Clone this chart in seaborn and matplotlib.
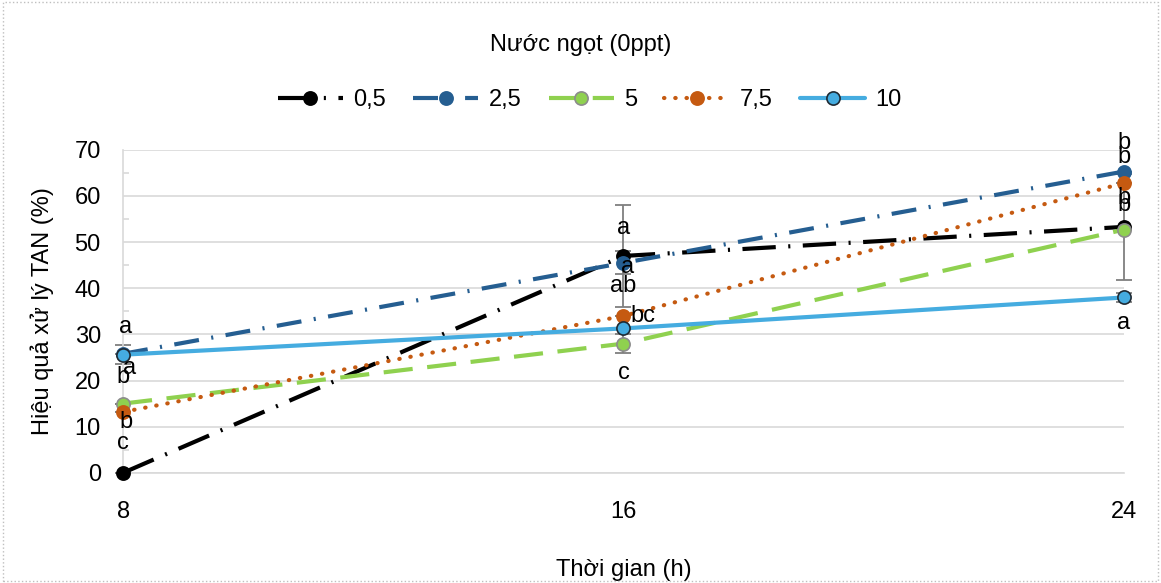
import numpy as np
import pandas as pd
import matplotlib.pyplot as plt
import seaborn as sns

hours = [8, 16, 24]
series_names = ["0,5", "2,5", "5", "7,5", "10"]
v_05 = [0.0, 47.0, 53.3]
v_25 = [25.8, 45.5, 65.3]
v_5 = [15.0, 28.0, 52.7]
v_75 = [13.2, 34.0, 62.8]
v_10 = [25.6, 31.3, 38.0]
err_05 = [0.0, 11.0, 11.5]
err_25 = [0.0, 2.5, 0.0]
err_5 = [0.0, 2.0, 0.0]
err_75 = [0.0, 0.0, 0.0]
err_10 = [2.0, 0.0, 1.0]

# significance letters: (hour, y value, text, x offset in points)
letters = [
    (8, 31.7, "a", 2), (8, 22.8, "a", 5), (8, 20.8, "b", 0), (8, 11.0, "b", 2), (8, 6.5, "c", 0),
    (16, 53.0, "a", 0), (16, 44.7, "a", 3), (16, 40.4, "ab", 0), (16, 34.0, "bc", 14), (16, 21.7, "c", 0),
    (24, 71.5, "b", 0), (24, 68.5, "b", 0), (24, 59.5, "b", 0), (24, 58.0, "b", 0), (24, 32.5, "a", 0),
]

values = [v_05, v_25, v_5, v_75, v_10]
errors = [err_05, err_25, err_5, err_75, err_10]
colors = ["#000000", "#255E91", "#8FD14F", "#C55A11", "#45ACE0"]
dashes = [(0, (8, 3, 0.5, 3)), (0, (6, 3, 0.5, 3)), (0, (7, 3.5)), (0, (0.1, 2.6)), "-"]
edges = ["#000000", "#255E91", "#8C8C8C", "#C55A11", "#1F2A33"]

df = pd.DataFrame({
    "hour": hours * len(series_names),
    "value": sum(values, []),
    "series": sum([[n] * len(hours) for n in series_names], []),
})

sns.set_style("white")
plt.rcParams['font.family'] = ['Liberation Sans', 'DejaVu Sans']
plt.rcParams['text.color'] = 'black'
plt.rcParams['axes.labelcolor'] = 'black'

fig = plt.figure(figsize=(11.61, 5.83), dpi=100)
ax = fig.add_axes([0.106, 0.189, 0.862, 0.554])

for i, name in enumerate(series_names):
    sub = df[df["series"] == name]
    eb = ax.errorbar(sub["hour"], sub["value"], yerr=errors[i], fmt="none",
                     ecolor="#7F7F7F", elinewidth=1.3, capsize=6, capthick=1.3, zorder=2)
    for art in eb.lines[1] + eb.lines[2]:
        art.set_clip_on(False)
    sns.lineplot(data=sub, x="hour", y="value", ax=ax, color=colors[i],
                 linewidth=3.0, marker="o", markersize=9.5, markerfacecolor=colors[i],
                 markeredgecolor=edges[i], markeredgewidth=1.2, label=name, zorder=3)
    ln = ax.lines[-1]
    ln.set_linestyle(dashes[i])
    ln.set_dash_capstyle("round" if i == 3 else "butt")
    ln.set_clip_on(False)

for h, y, t, dx in letters:
    ax.annotate(t, (h, y), xytext=(dx, 0), textcoords="offset points",
                ha="center", va="center", fontsize=17, color="black", zorder=5,
                annotation_clip=False)

ax.set_xlim(8, 24)
ax.set_ylim(0, 70)
ax.set_xticks(hours)
ax.set_yticks(range(0, 71, 10))
ax.set_yticks(range(5, 70, 10), minor=True)
ax.tick_params(axis="both", labelsize=17, length=0, colors="black")
ax.tick_params(axis="y", which="minor", direction="in", length=4, width=1.2,
               color="#D9D9D9", left=True)
ax.tick_params(axis="x", pad=20)
ax.tick_params(axis="y", which="major", pad=16)
ax.yaxis.grid(True, which="major", color="#D9D9D9", linewidth=1.2)
for s in ["top", "right"]:
    ax.spines[s].set_visible(False)
ax.spines["left"].set_color("#D9D9D9")
ax.spines["bottom"].set_color("#D9D9D9")
ax.spines["left"].set_linewidth(1.2)
ax.spines["bottom"].set_linewidth(1.2)
ax.set_xlabel("Thời gian (h)", fontsize=17, labelpad=26)
ax.set_ylabel("Hiệu quả xử lý TAN (%)", fontsize=17, labelpad=15)

handles, labels = ax.get_legend_handles_labels()
ax.get_legend().remove()
fig.legend(handles, labels, loc="center", bbox_to_anchor=(0.508, 0.828), ncol=5,
           frameon=False, fontsize=17, handlelength=2.75, handletextpad=0.45,
           columnspacing=1.15)
fig.text(0.5, 0.923, "Nước ngọt (0ppt)", ha="center", va="center", fontsize=17)

fig.patches.append(plt.Rectangle((0.003, 0.003), 0.994, 0.994, transform=fig.transFigure,
                                 fill=False, edgecolor="#BFBFBF", linestyle=":", linewidth=1))

plt.savefig("out.png", dpi=100)
